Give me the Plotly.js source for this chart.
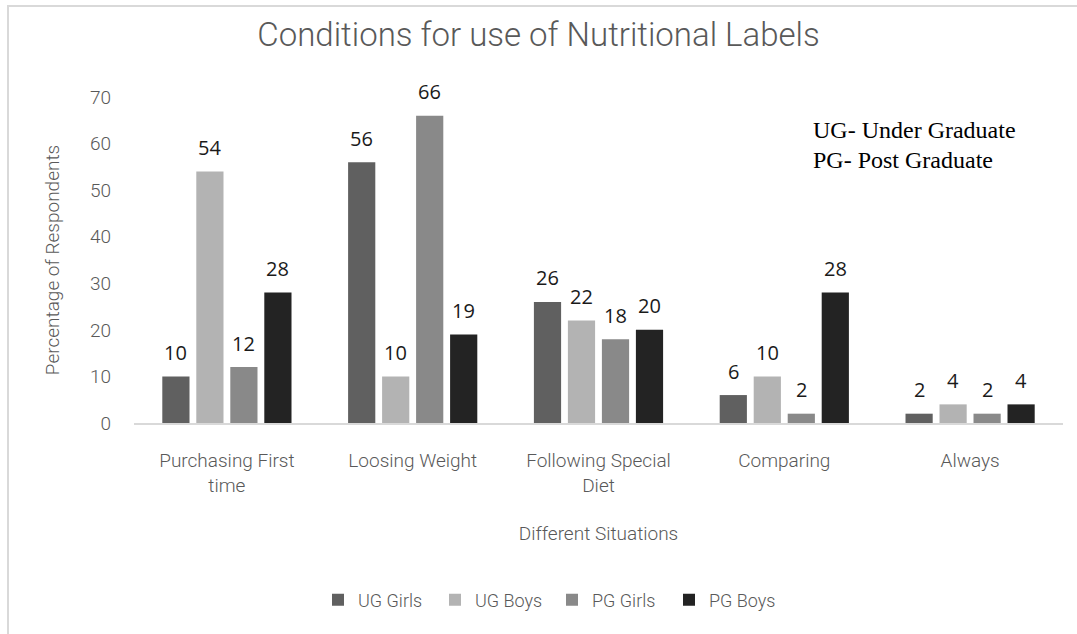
<!DOCTYPE html>
<html><head><meta charset="utf-8">
<script src="https://cdn.plot.ly/plotly-3.0.1.min.js"></script>
<style>
html,body{margin:0;padding:0;background:#fff;}
#frame{position:absolute;left:7px;top:5px;width:1100px;height:700px;border-left:2px solid #d9d9d9;border-top:2px solid #d9d9d9;}
#chart{position:absolute;left:0;top:0;width:1077px;height:634px;}
</style>
</head><body><div id="frame"></div><div id="chart"></div>
<script>
const categories = ["Purchasing First<br>time","Loosing Weight","Following Special<br>Diet","Comparing","Always"];
const ugGirls = [10,56,26,6,2];
const ugBoys = [54,10,22,10,4];
const pgGirls = [12,66,18,2,2];
const pgBoys = [28,19,20,28,4];
const seriesNames = ["UG Girls","UG Boys","PG Girls","PG Boys"];
const yTicks = [0,10,20,30,40,50,60,70];
const noteLines = ["UG- Under Graduate","PG- Post Graduate"];

const seriesValues = [ugGirls, ugBoys, pgGirls, pgBoys];
const colors = ["#606060","#b3b3b3","#898989","#232323"];
const lightFont = "Roboto, 'Open Sans', sans-serif";
const grey = "#595959";

const traces = seriesValues.map((vals, i) => ({
  type: "bar",
  name: seriesNames[i],
  x: categories,
  y: vals,
  marker: {color: colors[i]},
  hoverinfo: "skip"
}));

const annotations = [];
seriesValues.forEach((vals, i) => {
  vals.forEach((v, j) => {
    annotations.push({
      xref: "x", yref: "y", x: categories[j], y: v,
      text: String(v), showarrow: false,
      xanchor: "center", yanchor: "middle",
      xshift: (i - 1.5) * 34, yshift: 24,
      font: {family: "'Open Sans', sans-serif", size: 20, color: "#1a1a1a"}
    });
  });
});
noteLines.forEach((line, k) => {
  annotations.push({
    xref: "paper", yref: "paper", x: (811 - 134) / 929, y: (423 - (130 + 30 * k)) / 326,
    xanchor: "left", yanchor: "middle", align: "left", showarrow: false,
    text: line,
    font: {family: "'Liberation Serif', 'Times New Roman', serif", size: 24, color: "#000"}
  });
});

const layout = {
  width: 1077, height: 634,
  margin: {l: 134, r: 14, t: 97, b: 211},
  paper_bgcolor: "rgba(0,0,0,0)",
  plot_bgcolor: "rgba(0,0,0,0)",
  title: {
    text: "Conditions for use of Nutritional Labels",
    font: {family: lightFont, size: 33, color: grey, weight: 300},
    xref: "container", x: 0.5, xanchor: "center",
    yref: "container", y: 1 - 34 / 634, yanchor: "middle"
  },
  barmode: "group",
  bargap: 0.268,
  bargroupgap: 0.2,
  xaxis: {
    showline: true, linecolor: "#d9d9d9", linewidth: 1.5,
    ticks: "", showgrid: false, zeroline: false,
    ticklabelstandoff: 20,
    tickfont: {family: lightFont, size: 19, color: grey, weight: 300},
    title: {text: "Different Situations", standoff: 30,
      font: {family: lightFont, size: 19, color: grey, weight: 300}}
  },
  yaxis: {
    range: [0, 70], tickvals: yTicks, ticktext: yTicks.map(String),
    showline: false, showgrid: false, zeroline: false, ticks: "",
    ticklabelstandoff: 22,
    tickfont: {family: lightFont, size: 19, color: grey, weight: 300},
    title: {text: "Percentage of Respondents", standoff: 25,
      font: {family: lightFont, size: 19, color: grey, weight: 300}}
  },
  showlegend: true,
  legend: {
    orientation: "h", x: (318 - 134) / 929, xanchor: "left", y: (423 - 600) / 326, yanchor: "middle",
    font: {family: lightFont, size: 18, color: grey, weight: 300},
    itemwidth: 30, entrywidth: 72, traceorder: "normal"
  },
  annotations: annotations
};

Plotly.newPlot("chart", traces, layout, {displayModeBar: false, staticPlot: true});
</script>
</body></html>
